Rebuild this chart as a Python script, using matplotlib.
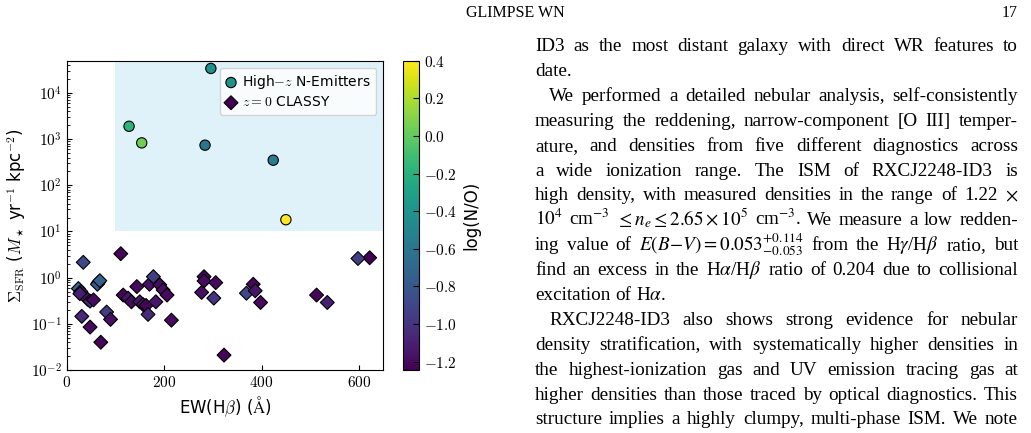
import re
import numpy as np
import matplotlib
matplotlib.use("Agg")
import matplotlib.pyplot as plt
from matplotlib.colors import Normalize
from matplotlib.ticker import FuncFormatter, LogLocator, NullFormatter

plt.rcParams['mathtext.fontset'] = 'cm'
plt.rcParams['font.family'] = ['DejaVu Sans']

# high-z nitrogen emitters
hz_ew = [296, 128, 154, 284, 424, 450]
hz_sfr = [3.4e4, 1.9e3, 830, 740, 350, 18]
hz_logno = [-0.42, -0.18, 0.04, -0.60, -0.56, 0.40]

# z=0 CLASSY galaxies
cl_ew = [622, 34, 111, 24, 29, 27, 43, 48, 55, 65, 63, 68, 31, 48, 70, 82, 90,
         116, 126, 133, 144, 150, 157, 163, 167, 170, 178, 183, 191, 198, 206,
         215, 282, 282, 306, 277, 302, 323, 369, 383, 387, 398, 513, 535, 598]
cl_sfr = [2.7, 2.15, 3.3, 0.58, 0.50, 0.45, 0.34, 0.31, 0.33, 0.78, 0.72, 0.86,
          0.145, 0.085, 0.04, 0.18, 0.125, 0.42, 0.36, 0.30, 0.64, 0.30, 0.26,
          0.25, 0.16, 0.72, 1.05, 0.30, 0.70, 0.54, 0.42, 0.12, 1.05, 0.85,
          0.78, 0.48, 0.36, 0.021, 0.46, 0.72, 0.52, 0.29, 0.42, 0.29, 2.6]
cl_logno = [-1.245, -0.88, -1.22, -0.72, -1.15, -1.10, -1.18, -1.05, -1.20,
            -0.95, -0.80, -0.74, -1.05, -1.20, -1.22, -0.95, -1.18, -1.22,
            -1.15, -1.20, -1.20, -1.15, -1.15, -1.22, -1.05, -1.18, -0.95,
            -1.15, -1.20, -1.18, -1.20, -1.20, -1.22, -1.20, -1.20, -1.18,
            -1.00, -1.22, -0.90, -1.22, -1.15, -1.20, -1.22, -1.10, -0.95]

EW_CUT = 100
SFR_CUT = 10
XLIM = (0, 650)
YLIM = (1e-2, 5e4)

cb_ticks = [-1.2, -1.0, -0.8, -0.6, -0.4, -0.2, 0.0, 0.2, 0.4]

header = "GLIMPSE WN"
page_no = "17"

# (line, indented, justified)
body = [
    ("ID3 as the most distant galaxy with direct WR features to", False, True),
    ("date.", False, False),
    ("We performed a detailed nebular analysis, self-consistently", True, True),
    ("measuring the reddening, narrow-component [O III] temper-", False, True),
    ("ature, and densities from five different diagnostics across", False, True),
    ("a wide ionization range.  The ISM of RXCJ2248-ID3 is", False, True),
    ("high density, with measured densities in the range of 1.22 $\\times$", False, True),
    ("$10^4$ cm$^{-3}$ $\\leq n_e \\leq 2.65\\times10^5$ cm$^{-3}$. We measure a low redden-", False, True),
    ("ing value of $E(B\\!-\\!V)=0.053^{+0.114}_{-0.053}$ from the H$\\gamma$/H$\\beta$ ratio, but", False, True),
    ("find an excess in the H$\\alpha$/H$\\beta$ ratio of 0.204 due to collisional", False, True),
    ("excitation of H$\\alpha$.", False, False),
    ("RXCJ2248-ID3 also shows strong evidence for nebular", True, True),
    ("density stratification, with systematically higher densities in", False, True),
    ("the highest-ionization gas and UV emission tracing gas at", False, True),
    ("higher densities than those traced by optical diagnostics. This", False, True),
    ("structure implies a highly clumpy, multi-phase ISM. We note", False, True),
]

W, H = 1031, 433
fig = plt.figure(figsize=(W / 100, H / 100), dpi=100)
ax = fig.add_axes([66.7 / W, 1 - 370 / H, 316.6 / W, 309.3 / H])
cax = fig.add_axes([403.3 / W, 1 - 370 / H, 15.7 / W, 309.3 / H])

norm = Normalize(min(cl_logno + hz_logno), max(cl_logno + hz_logno))

ax.fill_between([EW_CUT, XLIM[1]], SFR_CUT, YLIM[1], color='skyblue',
                alpha=0.25, lw=0, zorder=0)
sc = ax.scatter(hz_ew, hz_sfr, c=hz_logno, cmap='viridis', norm=norm,
                marker='o', s=55, edgecolors='k', linewidths=0.8,
                label='High$-z$ N-Emitters', zorder=3)
ax.scatter(cl_ew, cl_sfr, c=cl_logno, cmap='viridis', norm=norm,
           marker='D', s=50, edgecolors='k', linewidths=0.8,
           label='$z=0$ CLASSY', zorder=2)

ax.set_yscale('log')
ax.set_xlim(XLIM)
ax.set_ylim(YLIM)
ax.set_xticks([0, 200, 400, 600])
ax.set_yticks([1e-2, 1e-1, 1e0, 1e1, 1e2, 1e3, 1e4])
ax.yaxis.set_minor_locator(LogLocator(base=10, subs=np.arange(2, 10), numticks=20))
ax.yaxis.set_minor_formatter(NullFormatter())
ax.xaxis.set_major_formatter(FuncFormatter(lambda v, p: f'${v:.0f}$'))
ax.yaxis.set_major_formatter(
    FuncFormatter(lambda v, p: f'$10^{{{int(round(np.log10(v)))}}}$'))
ax.tick_params(which='both', direction='in', labelsize=11)
ax.tick_params(which='minor', length=2)
ax.set_xlabel(r'EW(H$\beta$) ($\mathrm{\AA}$)', fontsize=12, labelpad=3)
ax.set_ylabel(r'$\Sigma_{\rm SFR}$ ($M_\star$ yr$^{-1}$ kpc$^{-2}$)',
              fontsize=12, labelpad=2)
ax.legend(loc='upper right', fontsize=10, handlelength=0.8,
          handletextpad=0.4, borderpad=0.4, labelspacing=0.3)

cb = fig.colorbar(sc, cax=cax)
cb.set_ticks(cb_ticks)
cb.ax.yaxis.set_major_formatter(
    FuncFormatter(lambda v, p: f'${round(v, 1) + 0.0:.1f}$'))
cb.ax.tick_params(direction='in', labelsize=11, length=4)
cb.outline.set_linewidth(0.8)
cb.set_label('log(N/O)', fontsize=12, labelpad=4)

# page header and text column
serif = dict(family='Liberation Serif', math_fontfamily='stix')
fig.text(515 / W, 1 - 17 / H, header, fontsize=11.5, ha='center',
         va='baseline', **serif)
fig.text(1018 / W, 1 - 17 / H, page_no, fontsize=11.5, ha='right',
         va='baseline', **serif)

renderer = fig.canvas.get_renderer()
FS = 13.8
X0, X1, INDENT = 535, 1018, 14
LINE0, STEP = 51, 24.9


def split_words(line):
    return re.findall(r'(?:\$[^$]*\$|[^\s$])+', line)


for i, (line, indented, justified) in enumerate(body):
    y = LINE0 + i * STEP
    words = split_words(line)
    txts = [fig.text(0, 1 - y / H, w, fontsize=FS, va='baseline', **serif)
            for w in words]
    widths = [t.get_window_extent(renderer).width for t in txts]
    left = X0 + (INDENT if indented else 0)
    if justified and len(words) > 1:
        gap = (X1 - left - sum(widths)) / (len(words) - 1)
    else:
        gap = FS * 1.389 * 0.25
    x = left
    for t, w in zip(txts, widths):
        t.set_x(x / W)
        x += w + gap

fig.savefig('out.png', dpi=100)
